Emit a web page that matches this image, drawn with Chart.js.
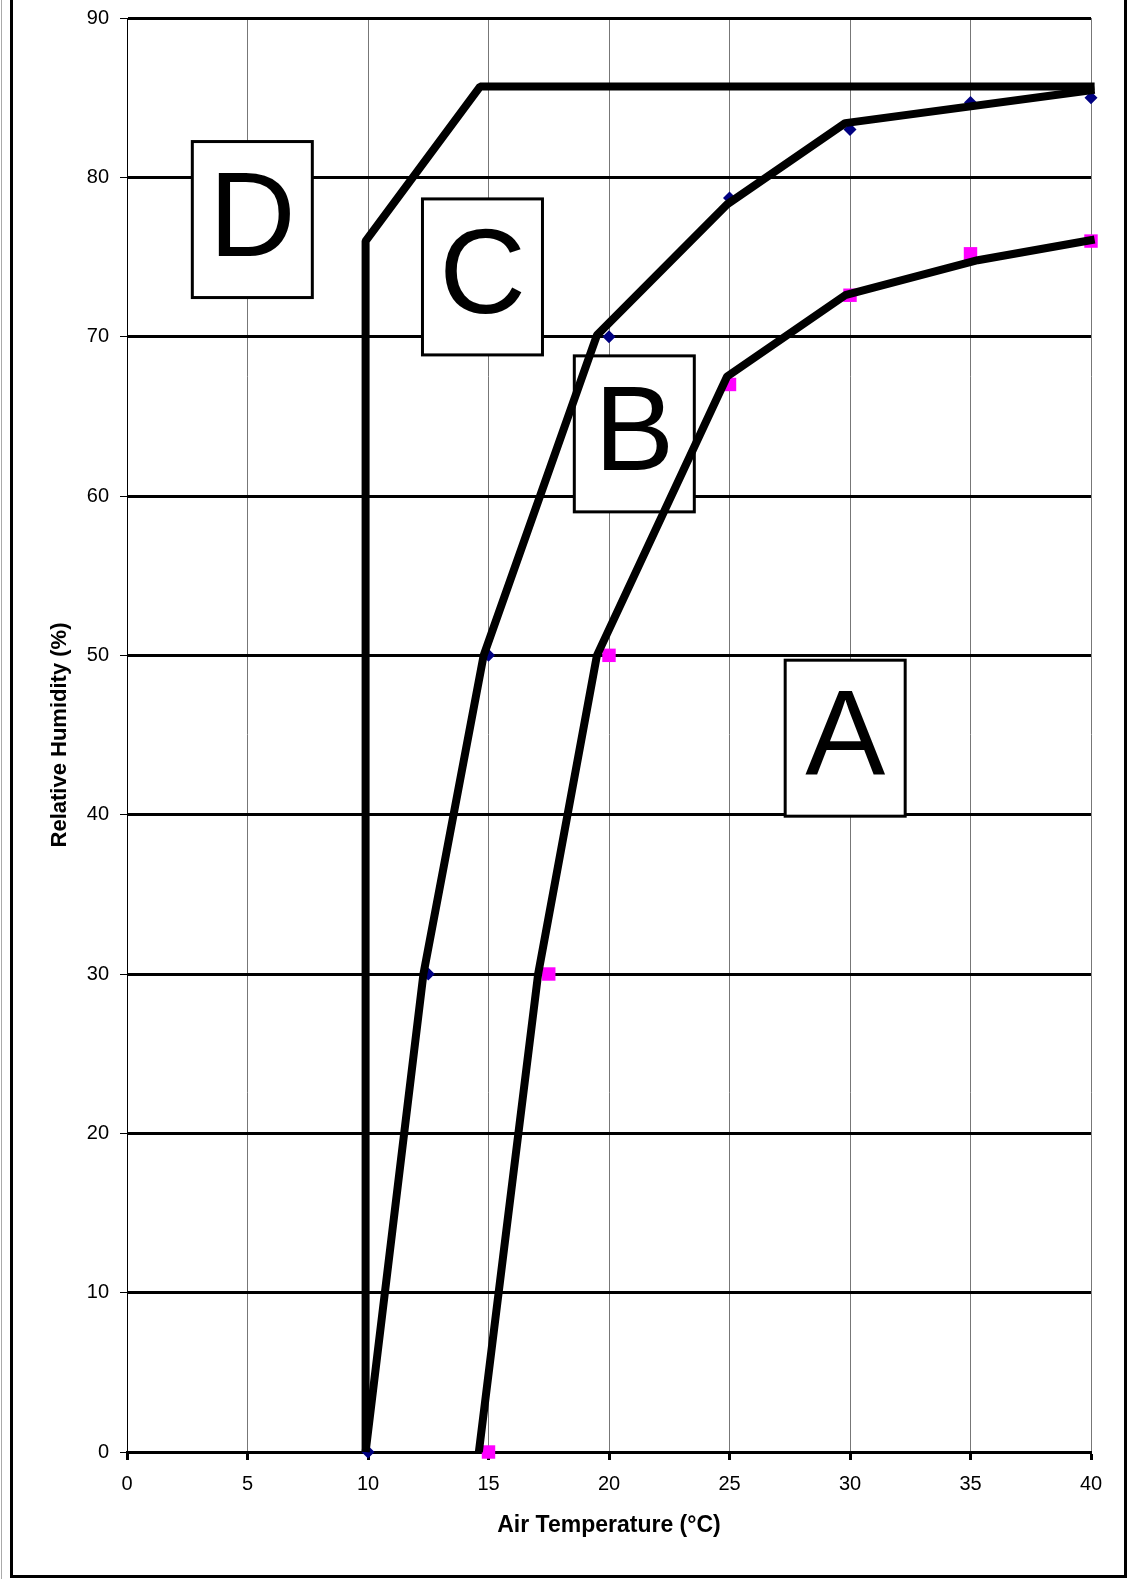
<!DOCTYPE html>
<html>
<head>
<meta charset="utf-8">
<title>Relative Humidity vs Air Temperature</title>
<script src="https://cdn.jsdelivr.net/npm/chart.js@4/dist/chart.umd.min.js"></script>
<style>
    html, body { margin: 0; padding: 0; background: #fff; }
    body { width: 1128px; height: 1579px; position: relative; overflow: hidden; }
    #frame {
        position: absolute; left: 10px; top: -10px;
        width: 1117px; height: 1588px;
        border: 3px solid #000; box-sizing: border-box;
    }
    #edge { position: absolute; left: 1px; top: 0; width: 1px; height: 1579px; background: #aaa; }
    #chart { position: absolute; left: 0; top: 0; }
</style>
</head>
<body>
<div id="edge"></div>
<div id="frame"></div>
<canvas id="chart" width="1128" height="1579"></canvas>
<script>
/**
 * Zone chart: relative humidity against air temperature
 */

// Axis ticks
const tempTicks = [0, 5, 10, 15, 20, 25, 30, 35, 40];
const rhTicks = [0, 10, 20, 30, 40, 50, 60, 70, 80, 90];

// Measured points, upper curve (blue diamonds)
const upperTemp = [10, 12.5, 15, 20, 25, 30, 35, 40];
const upperRH = [0, 30, 50, 70, 78.7, 83, 84.7, 85];

// Measured points, lower curve (magenta squares)
const lowerTemp = [15, 17.5, 20, 25, 30, 35, 40];
const lowerRH = [0, 30, 50, 67, 72.6, 75.2, 76];

// Zone boundaries drawn over the points
const boundDTemp = [9.9, 9.9, 14.65, 40.15];
const boundDRH = [0, 76, 85.7, 85.7];
const boundCTemp = [9.9, 12.3, 14.8, 19.5, 24.9, 29.8, 40.15];
const boundCRH = [0, 30, 50, 70.1, 78.3, 83.4, 85.5];
const boundBTemp = [14.6, 17.06, 19.5, 24.9, 29.8, 35.3, 40.15];
const boundBRH = [0, 30, 50, 67.5, 72.6, 74.8, 76.1];

// Zone letters and where they sit (data units)
const zoneNames = ['D', 'C', 'B', 'A'];
const zoneTemp = [5.2, 14.75, 21.05, 29.8];
const zoneRH = [77.35, 73.75, 63.9, 44.8];

const FONT = "'Liberation Sans', Arial, Helvetica, sans-serif";

function toPoints(xs, ys) {
    return xs.map(function(x, i) { return { x: x, y: ys[i] }; });
}

function boundary(xs, ys) {
    return {
        data: toPoints(xs, ys),
        showLine: true,
        borderColor: '#000',
        borderWidth: 8,
        borderJoinStyle: 'bevel',
        borderCapStyle: 'butt',
        pointRadius: 0,
        fill: false,
        clip: false
    };
}

/**
 * Boxed zone letters, drawn under the boundary lines
 */
const zoneBoxes = {
    id: 'zoneBoxes',
    beforeDatasetsDraw: function(chart) {
        const ctx = chart.ctx;
        const xs = chart.scales.x;
        const ys = chart.scales.y;
        const w = 120, h = 156;
        ctx.save();
        zoneNames.forEach(function(name, i) {
            const cx = xs.getPixelForValue(zoneTemp[i]);
            const cy = ys.getPixelForValue(zoneRH[i]);
            ctx.fillStyle = '#fff';
            ctx.fillRect(cx - w / 2, cy - h / 2, w, h);
            ctx.lineWidth = 3;
            ctx.strokeStyle = '#000';
            ctx.strokeRect(cx - w / 2, cy - h / 2, w, h);
            ctx.fillStyle = '#000';
            ctx.font = '120px ' + FONT;
            ctx.textAlign = 'center';
            ctx.textBaseline = 'middle';
            ctx.fillText(name, cx, cy + 3);
        });
        ctx.restore();
    }
};

const ctx = document.getElementById('chart');

new Chart(ctx, {
    type: 'scatter',
    data: {
        datasets: [
            boundary(boundDTemp, boundDRH),
            boundary(boundCTemp, boundCRH),
            boundary(boundBTemp, boundBRH),
            {
                data: toPoints(upperTemp, upperRH),
                pointStyle: 'rectRot',
                pointRadius: 6.5,
                pointBorderWidth: 0,
                backgroundColor: '#000080',
                borderColor: '#000080',
                clip: false
            },
            {
                data: toPoints(lowerTemp, lowerRH),
                pointStyle: 'rect',
                pointRadius: 9.5,
                pointBorderWidth: 0,
                backgroundColor: '#ff00ff',
                borderColor: '#ff00ff',
                clip: false
            }
        ]
    },
    options: {
        responsive: false,
        animation: false,
        devicePixelRatio: 1,
        layout: { padding: { top: 18, right: 37, left: 0, bottom: 0 } },
        plugins: {
            legend: { display: false },
            tooltip: { enabled: false }
        },
        scales: {
            x: {
                type: 'linear',
                min: tempTicks[0],
                max: tempTicks[tempTicks.length - 1],
                afterBuildTicks: function(scale) {
                    scale.ticks = tempTicks.map(function(v) { return { value: v }; });
                },
                afterFit: function(scale) {
                    scale.height = 127;
                    scale.paddingRight = 0;
                },
                grid: {
                    color: '#777',
                    lineWidth: 1,
                    tickColor: '#000',
                    tickWidth: 3,
                    tickLength: 8
                },
                border: { color: '#000', width: 3 },
                ticks: {
                    color: '#000',
                    padding: 12,
                    maxRotation: 0,
                    font: { family: FONT, size: 20 }
                },
                title: {
                    display: true,
                    text: 'Air Temperature (°C)',
                    color: '#000',
                    font: { family: FONT, size: 23, weight: 'bold', lineHeight: 1.2 },
                    padding: { top: 0, bottom: 40 }
                }
            },
            y: {
                type: 'linear',
                min: rhTicks[0],
                max: rhTicks[rhTicks.length - 1],
                afterBuildTicks: function(scale) {
                    scale.ticks = rhTicks.map(function(v) { return { value: v }; });
                },
                afterFit: function(scale) {
                    // keep the plot top where the layout padding puts it
                    scale.width = 127;
                    scale.paddingTop = 0;
                    scale.paddingBottom = 0;
                },
                grid: {
                    color: '#000',
                    lineWidth: 3,
                    tickColor: '#000',
                    tickWidth: 1,
                    tickLength: 7
                },
                border: { color: '#000', width: 1 },
                ticks: {
                    color: '#000',
                    padding: 11,
                    font: { family: FONT, size: 20 }
                },
                title: {
                    display: true,
                    text: 'Relative Humidity (%)',
                    color: '#000',
                    font: { family: FONT, size: 22, weight: 'bold', lineHeight: 1.2 },
                    padding: { top: 47, bottom: 0 }
                }
            }
        }
    },
    plugins: [zoneBoxes]
});
</script>
</body>
</html>
